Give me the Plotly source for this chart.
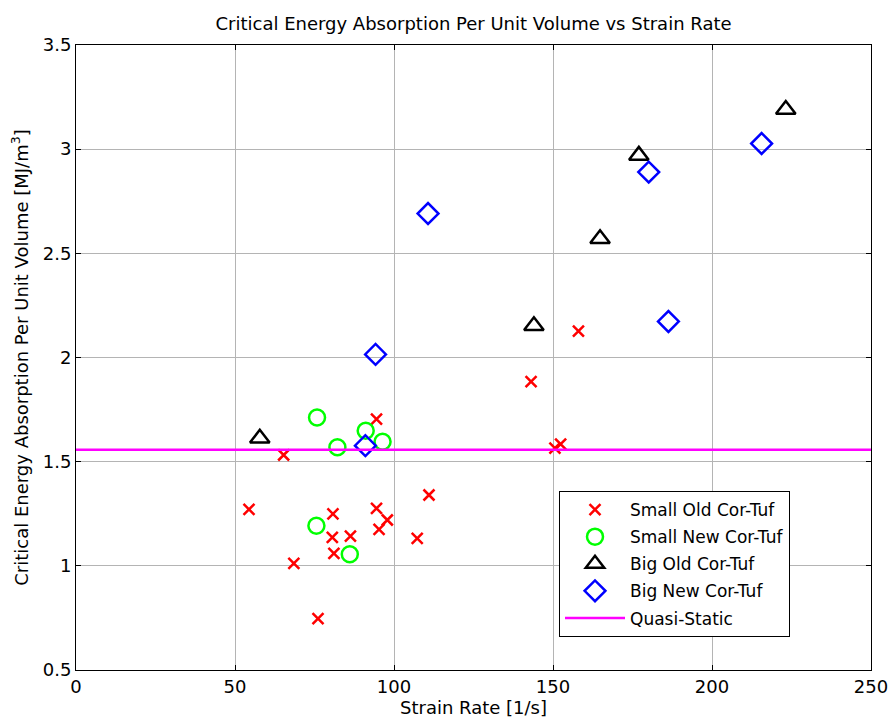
import plotly.graph_objects as go

# Small Old Cor-Tuf
so_x = [65.3, 94.5, 54.4, 80.8, 94.5, 97.9, 95.3, 111.0, 80.6, 86.3, 107.3, 81.1, 68.5, 76.1,
        158.0, 143.1, 152.4, 150.6]
so_y = [1.532, 1.704, 1.271, 1.249, 1.276, 1.220, 1.175, 1.340, 1.137, 1.143, 1.132, 1.060, 1.012, 0.747,
        2.127, 1.884, 1.584, 1.565]
# Small New Cor-Tuf
sn_x = [75.8, 91.1, 96.4, 82.2, 75.6, 86.1]
sn_y = [1.712, 1.648, 1.596, 1.569, 1.192, 1.056]
# Big Old Cor-Tuf
bo_x = [57.8, 144.0, 164.8, 177.0, 223.2]
bo_y = [1.612, 2.152, 2.570, 2.970, 3.190]
# Big New Cor-Tuf
bn_x = [91.0, 94.2, 110.7, 186.3, 180.1, 215.6]
bn_y = [1.577, 2.015, 2.691, 2.173, 2.890, 3.027]
# Quasi-Static
qs_x = [0, 250]
qs_y = [1.557, 1.557]

x_ticks = [0, 50, 100, 150, 200, 250]
y_ticks = [0.5, 1, 1.5, 2, 2.5, 3, 3.5]
y_tick_labels = ["0.5", "1", "1.5", "2", "2.5", "3", "3.5"]

font = "DejaVu Sans, sans-serif"
FS = 18

fig = go.Figure()
fig.add_trace(go.Scatter(x=so_x, y=so_y, mode="markers", name="Small Old Cor-Tuf", legendgroup="a",
                         marker=dict(symbol="x-thin-open", size=11, color="#ff0000",
                                     line=dict(color="#ff0000", width=2.5))))
fig.add_trace(go.Scatter(x=sn_x, y=sn_y, mode="markers", name="Small New Cor-Tuf", legendgroup="b",
                         marker=dict(symbol="circle-open", size=16, color="#00ff00",
                                     line=dict(color="#00ff00", width=2.5))))
fig.add_trace(go.Scatter(x=bo_x, y=bo_y, mode="markers", name="Big Old Cor-Tuf", legendgroup="c",
                         marker=dict(symbol="triangle-up-open", size=17, color="#000000",
                                     line=dict(color="#000000", width=2.5))))
fig.add_trace(go.Scatter(x=bn_x, y=bn_y, mode="markers", name="Big New Cor-Tuf", legendgroup="d",
                         marker=dict(symbol="diamond-open", size=16, color="#0000ff",
                                     line=dict(color="#0000ff", width=2.5))))
fig.add_trace(go.Scatter(x=qs_x, y=qs_y, mode="lines", name="Quasi-Static", legendgroup="e",
                         line=dict(color="#ff00ff", width=2.5)))

axis_common = dict(showline=True, linecolor="black", linewidth=1, mirror="ticks",
                   ticks="inside", ticklen=5, tickcolor="black",
                   showgrid=True, gridcolor="#b4b4b4", gridwidth=1,
                   zeroline=False, automargin=False,
                   tickfont=dict(family=font, size=FS, color="black"))

fig.update_xaxes(range=[0, 250], tickmode="array", tickvals=x_ticks,
                 title=dict(text="Strain Rate [1/s]", font=dict(family=font, size=FS, color="black"), standoff=2),
                 **axis_common)
fig.update_yaxes(range=[0.5, 3.5], tickmode="array", tickvals=y_ticks, ticktext=y_tick_labels,
                 title=dict(text="Critical Energy Absorption Per Unit Volume [MJ/m<sup>3</sup>]",
                            font=dict(family=font, size=FS, color="black"), standoff=9),
                 **axis_common)

fig.update_layout(
    width=891, height=725,
    margin=dict(l=76, r=20, t=45, b=55),
    paper_bgcolor="white", plot_bgcolor="white",
    title=dict(text="Critical Energy Absorption Per Unit Volume vs Strain Rate",
               font=dict(family=font, size=FS, color="black"), xref="paper",
               x=0.5, xanchor="center", y=1 - 24 / 725, yanchor="middle"),
    legend=dict(x=(559 - 76) / 795, y=(670 - 637) / 625, xanchor="left", yanchor="bottom",
                bgcolor="white", bordercolor="black", borderwidth=1,
                font=dict(family=font, size=17, color="black"),
                itemwidth=60, tracegroupgap=2),
    showlegend=True,
)

fig.write_html("out.html")
